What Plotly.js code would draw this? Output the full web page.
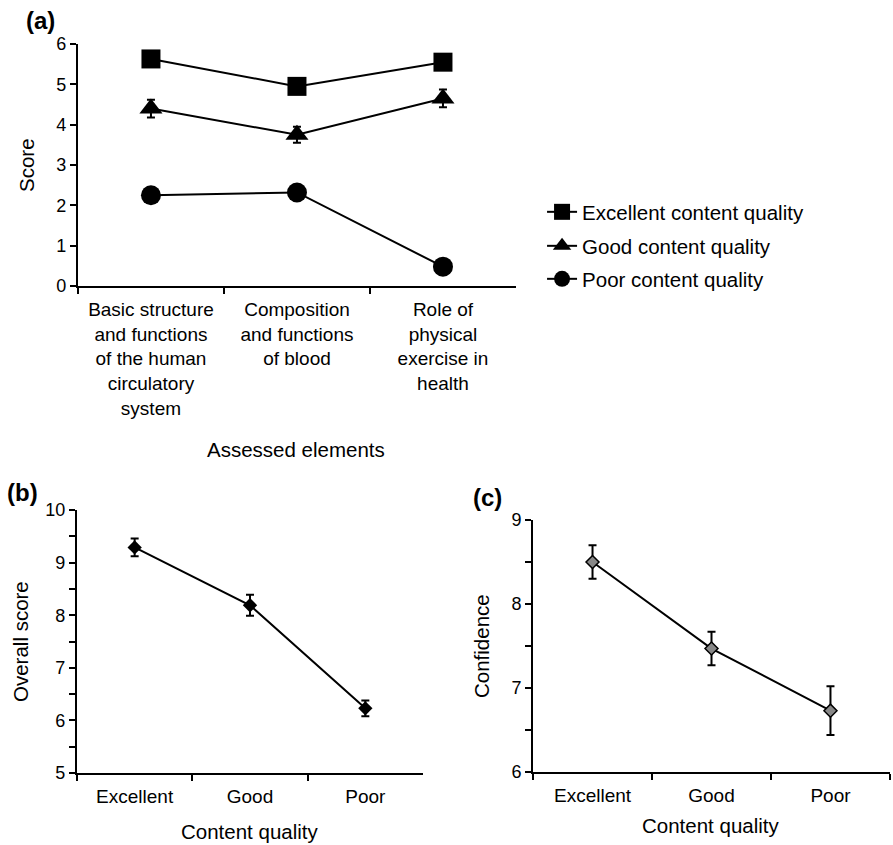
<!DOCTYPE html>
<html>
<head>
<meta charset="utf-8">
<script src="https://cdn.plot.ly/plotly-3.0.1.min.js"></script>
<style>html,body{margin:0;padding:0;background:#fff;}#chart{width:893px;height:845px;}</style>
</head>
<body>
<div id="chart"></div>
<script>
// Panel (a)
const elements = [
  "Basic structure<br>and functions<br>of the human<br>circulatory<br>system",
  "Composition<br>and functions<br>of blood",
  "Role of<br>physical<br>exercise in<br>health"
];
const excellentScore = [5.63, 4.95, 5.55];
const excellentErr = [0.1, 0.1, 0.1];
const goodScore = [4.4, 3.75, 4.65];
const goodErr = [0.22, 0.2, 0.22];
const poorScore = [2.25, 2.32, 0.48];
const poorErr = [0.1, 0.1, 0.1];
// Panel (b) and (c)
const quality = ["Excellent", "Good", "Poor"];
const overallScore = [9.29, 8.19, 6.23];
const overallErr = [0.17, 0.2, 0.15];
const confidence = [8.5, 7.47, 6.73];
const confidenceErr = [0.2, 0.2, 0.29];

const FONT = "Liberation Sans, Arial, sans-serif";
const blk = "#000";

function errBar(arr, w) {
  return {type: "data", array: arr, visible: true, color: blk, thickness: 2, width: w};
}

const traces = [
  {x: elements, y: excellentScore, type: "scatter", mode: "lines+markers", name: "Excellent content quality",
   line: {color: blk, width: 2}, marker: {symbol: "square", size: 19, color: blk},
   error_y: errBar(excellentErr, 4), xaxis: "x", yaxis: "y", legend: "legend"},
  {x: elements, y: goodScore, type: "scatter", mode: "lines+markers", name: "Good content quality",
   line: {color: blk, width: 2}, marker: {symbol: "triangle-up", size: 20, color: blk},
   error_y: errBar(goodErr, 4), xaxis: "x", yaxis: "y", legend: "legend2"},
  {x: elements, y: poorScore, type: "scatter", mode: "lines+markers", name: "Poor content quality",
   line: {color: blk, width: 2}, marker: {symbol: "circle", size: 20, color: blk},
   error_y: errBar(poorErr, 4), xaxis: "x", yaxis: "y", legend: "legend3"},
  {x: quality, y: overallScore, type: "scatter", mode: "lines+markers", showlegend: false,
   line: {color: blk, width: 2}, marker: {symbol: "diamond", size: 11, color: blk},
   error_y: errBar(overallErr, 4), xaxis: "x2", yaxis: "y2"},
  {x: quality, y: confidence, type: "scatter", mode: "lines+markers", showlegend: false,
   line: {color: blk, width: 2}, marker: {symbol: "diamond", size: 10, color: "#888", line: {color: blk, width: 1.5}},
   error_y: errBar(confidenceErr, 4), xaxis: "x3", yaxis: "y3"}
];

function catAxis(domain, anchor) {
  return {domain: domain, anchor: anchor, type: "category", range: [-0.5, 2.5], tickson: "boundaries",
    showline: true, linecolor: blk, linewidth: 2, ticks: "outside", ticklen: 6, tickwidth: 2, tickcolor: blk,
    showgrid: false, zeroline: false, fixedrange: true, ticklabelstandoff: 5,
    tickfont: {family: FONT, size: 19, color: blk}};
}
function numAxis(domain, anchor, range, dtick, minor) {
  const a = {domain: domain, anchor: anchor, range: range, dtick: dtick, tick0: 0,
    showline: true, linecolor: blk, linewidth: 2, ticks: "outside", ticklen: 6, tickwidth: 2, tickcolor: blk,
    showgrid: false, zeroline: false, fixedrange: true,
    tickfont: {family: FONT, size: 18, color: blk}};
  if (minor) a.minor = {dtick: minor, ticks: "outside", ticklen: 6, tickwidth: 2, tickcolor: blk, showgrid: false};
  return a;
}
function leg(y) {
  return {x: 0.607, y: y, xanchor: "left", yanchor: "middle", bgcolor: "rgba(0,0,0,0)",
    font: {family: FONT, size: 20.5, color: blk}, itemwidth: 30};
}
function txt(text, x, y, size, angle) {
  return {text: text, xref: "paper", yref: "paper", x: x / 893, y: 1 - y / 845,
    xanchor: "center", yanchor: "middle", showarrow: false, textangle: angle || 0,
    font: {family: FONT, size: size, color: blk}};
}

const layout = {
  width: 893, height: 845, margin: {l: 0, r: 0, t: 0, b: 0},
  paper_bgcolor: "#fff", plot_bgcolor: "#fff", showlegend: true,
  xaxis: catAxis([0.0873, 0.5778], "y"),
  yaxis: numAxis([0.6615, 0.9479], "x", [0, 6], 1, null),
  xaxis2: catAxis([0.0862, 0.4737], "y2"),
  yaxis2: numAxis([0.0852, 0.3964], "x2", [5, 10], 1, 0.5),
  xaxis3: catAxis([0.5969, 0.9966], "y3"),
  yaxis3: numAxis([0.0864, 0.3846], "x3", [6, 9], 1, 0.5),
  legend: leg(1 - 212 / 845),
  legend2: leg(1 - 246 / 845),
  legend3: leg(1 - 279 / 845),
  annotations: [
    txt("<b>(a)</b>", 40, 21, 24),
    txt("<b>(b)</b>", 22, 493, 24),
    txt("<b>(c)</b>", 487, 497, 24),
    txt("Assessed elements", 296, 449, 20.5),
    txt("Score", 26, 165, 20.5, -90),
    txt("Content quality", 250, 831, 20.5),
    txt("Overall score", 20, 642, 20.5, -90),
    txt("Content quality", 711, 825, 20.5),
    txt("Confidence", 481, 646, 20.5, -90)
  ]
};

Plotly.newPlot("chart", traces, layout, {displayModeBar: false, staticPlot: true});
</script>
</body>
</html>
